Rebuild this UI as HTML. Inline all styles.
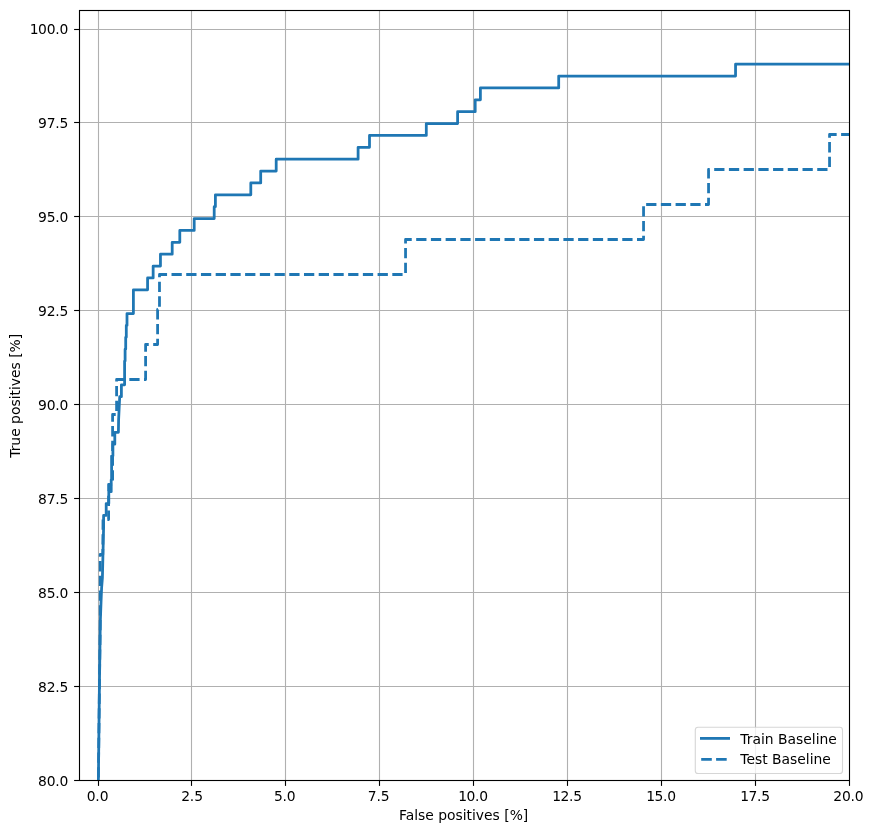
<!DOCTYPE html>
<html lang="en">
<head>
<meta charset="utf-8">
<title>ROC - Train vs Test Baseline</title>
<style>
html,body{margin:0;padding:0;background:#fff;}
body{width:874px;height:833px;overflow:hidden;}
svg{display:block;}
text{font-family:"DejaVu Sans","Liberation Sans",sans-serif;font-size:13.89px;fill:#000;}
</style>
</head>
<body>
<svg width="874" height="833" viewBox="0 0 874 833">
<rect x="0" y="0" width="874" height="833" fill="#ffffff"/>
<clipPath id="ax"><rect x="79" y="10" width="770.5" height="770.8"/></clipPath>
<g stroke="#b0b0b0" stroke-width="1.11" fill="none">
<line x1="98.5" y1="10.5" x2="98.5" y2="780.5"/>
<line x1="191.5" y1="10.5" x2="191.5" y2="780.5"/>
<line x1="285.5" y1="10.5" x2="285.5" y2="780.5"/>
<line x1="379.5" y1="10.5" x2="379.5" y2="780.5"/>
<line x1="473.5" y1="10.5" x2="473.5" y2="780.5"/>
<line x1="567.5" y1="10.5" x2="567.5" y2="780.5"/>
<line x1="661.5" y1="10.5" x2="661.5" y2="780.5"/>
<line x1="755.5" y1="10.5" x2="755.5" y2="780.5"/>
<line x1="79.5" y1="29.5" x2="849.5" y2="29.5"/>
<line x1="79.5" y1="122.5" x2="849.5" y2="122.5"/>
<line x1="79.5" y1="216.5" x2="849.5" y2="216.5"/>
<line x1="79.5" y1="310.5" x2="849.5" y2="310.5"/>
<line x1="79.5" y1="404.5" x2="849.5" y2="404.5"/>
<line x1="79.5" y1="498.5" x2="849.5" y2="498.5"/>
<line x1="79.5" y1="592.5" x2="849.5" y2="592.5"/>
<line x1="79.5" y1="686.5" x2="849.5" y2="686.5"/>
</g>
<g stroke="#000" stroke-width="1.11" fill="none">
<line x1="98.5" y1="780.5" x2="98.5" y2="785.9"/>
<line x1="191.5" y1="780.5" x2="191.5" y2="785.9"/>
<line x1="285.5" y1="780.5" x2="285.5" y2="785.9"/>
<line x1="379.5" y1="780.5" x2="379.5" y2="785.9"/>
<line x1="473.5" y1="780.5" x2="473.5" y2="785.9"/>
<line x1="567.5" y1="780.5" x2="567.5" y2="785.9"/>
<line x1="661.5" y1="780.5" x2="661.5" y2="785.9"/>
<line x1="755.5" y1="780.5" x2="755.5" y2="785.9"/>
<line x1="849.5" y1="780.5" x2="849.5" y2="785.9"/>
<line x1="74.1" y1="29.5" x2="79.5" y2="29.5"/>
<line x1="74.1" y1="122.5" x2="79.5" y2="122.5"/>
<line x1="74.1" y1="216.5" x2="79.5" y2="216.5"/>
<line x1="74.1" y1="310.5" x2="79.5" y2="310.5"/>
<line x1="74.1" y1="404.5" x2="79.5" y2="404.5"/>
<line x1="74.1" y1="498.5" x2="79.5" y2="498.5"/>
<line x1="74.1" y1="592.5" x2="79.5" y2="592.5"/>
<line x1="74.1" y1="686.5" x2="79.5" y2="686.5"/>
<line x1="74.1" y1="780.5" x2="79.5" y2="780.5"/>
</g>
<g clip-path="url(#ax)" fill="none" stroke="#1f77b4" stroke-width="2.78" stroke-linejoin="round">
<path stroke-linecap="square" d="M98.40,781.50 L98.60,760.00 L99.50,680.00 L100.30,622.00 L101.00,603.00 L101.60,588.00 L102.40,578.00 L103.30,540.00 L103.60,527.33 L103.60,515.45 L106.20,515.45 L106.20,503.57 L108.80,503.57 L108.80,491.70 L111.20,491.70 L111.20,479.82 L111.60,479.82 L111.60,456.07 L112.90,456.07 L112.90,444.20 L114.80,444.20 L114.80,432.32 L118.40,432.32 L118.60,420.00 L119.70,396.70 L121.40,396.70 L121.40,384.82 L124.60,384.82 L124.60,361.07 L125.10,361.07 L125.10,349.20 L125.70,349.20 L125.70,337.32 L126.30,337.32 L126.30,325.45 L127.00,325.45 L127.00,325.45 L127.00,313.57 L133.40,313.57 L133.40,301.70 L133.40,301.70 L133.40,289.82 L147.58,289.82 L147.58,277.95 L153.15,277.95 L153.15,266.07 L160.45,266.07 L160.45,254.20 L172.20,254.20 L172.20,242.32 L179.80,242.32 L179.80,230.45 L194.20,230.45 L194.20,218.57 L214.20,218.57 L214.20,206.70 L215.40,206.70 L215.40,194.82 L250.80,194.82 L250.80,182.95 L260.70,182.95 L260.70,171.07 L276.20,171.07 L276.20,159.20 L358.10,159.20 L358.10,147.32 L369.50,147.32 L369.50,135.45 L426.30,135.45 L426.30,123.58 L457.60,123.58 L457.60,111.70 L475.20,111.70 L475.20,99.83 L480.40,99.83 L480.40,87.95 L558.70,87.95 L558.70,76.08 L735.55,76.08 L735.55,64.20 L850.80,64.20"/>
<path stroke-linecap="butt" stroke-dasharray="10.28 4.44" stroke-dashoffset="10.68" d="M98.40,781.50 L98.60,760.00 L99.50,680.00 L100.20,626.00 L100.20,554.50 L102.80,554.50 L103.00,519.50 L108.60,519.50 L108.60,484.50 L112.60,484.50 L112.60,414.50 L116.60,414.50 L116.60,379.50 L145.60,379.50 L145.60,344.50 L157.60,344.50 L157.60,309.50 L159.49,309.50 L159.49,274.50 L405.55,274.50 L405.55,239.50 L643.55,239.50 L643.55,204.50 L708.55,204.50 L708.55,169.50 L829.55,169.50 L829.55,134.50 L850.80,134.50"/>
</g>
<rect x="79.5" y="10.5" width="770" height="770" fill="none" stroke="#000" stroke-width="1.11"/>
<g text-anchor="middle" letter-spacing="-0.15">
<text x="97.5" y="800.9">0.0</text>
<text x="192.0" y="800.9">2.5</text>
<text x="284.7" y="800.9">5.0</text>
<text x="378.6" y="800.9">7.5</text>
<text x="473.2" y="800.9">1<tspan dx="-0.6">0.0</tspan></text>
<text x="567.2" y="800.9">1<tspan dx="-0.6">2.5</tspan></text>
<text x="661.2" y="800.9">1<tspan dx="-0.6">5.0</tspan></text>
<text x="755.2" y="800.9">1<tspan dx="-0.6">7.5</tspan></text>
<text x="848.4" y="800.9">20.0</text>
</g>
<g text-anchor="end" letter-spacing="-0.15">
<text x="68.25" y="34.0">1<tspan dx="-0.6">00.0</tspan></text>
<text x="68.25" y="128.0">97.5</text>
<text x="68.25" y="222.0">95.0</text>
<text x="68.25" y="316.0">92.5</text>
<text x="68.25" y="410.0">90.0</text>
<text x="68.25" y="504.0">87.5</text>
<text x="68.25" y="598.0">85.0</text>
<text x="68.25" y="692.0">82.5</text>
<text x="68.25" y="786.0">80.0</text>
</g>
<text x="463.6" y="820.2" text-anchor="middle">False positives [%]</text>
<text transform="translate(20.4,395.8) rotate(-90)" text-anchor="middle">True positives [%]</text>
<rect x="695.3" y="727.3" width="147.2" height="46.2" rx="2.8" ry="2.8" fill="#ffffff" fill-opacity="0.8" stroke="#cccccc" stroke-opacity="0.8" stroke-width="1.11"/>
<line x1="701.4" y1="738.4" x2="728.6" y2="738.4" stroke="#1f77b4" stroke-width="2.78" stroke-linecap="square"/>
<line x1="701.2" y1="759.4" x2="728.6" y2="759.4" stroke="#1f77b4" stroke-width="2.78" stroke-dasharray="10.6 4.3"/>
<text x="740.3" y="743.5">Train Baseline</text>
<text x="740.3" y="764.2">Test Baseline</text>
</svg>
</body>
</html>
